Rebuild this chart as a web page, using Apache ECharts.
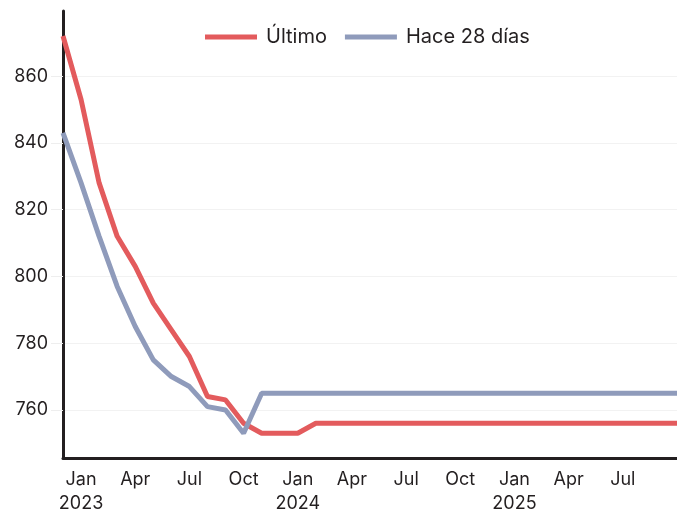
<!DOCTYPE html>
<html>
<head>
<meta charset="utf-8">
<script src="https://cdn.jsdelivr.net/npm/echarts@6/dist/echarts.min.js"></script>
<style>
  html, body { margin: 0; padding: 0; background: #fff; }
  #chart { width: 677px; height: 513px; }
</style>
</head>
<body>
<div id="chart"></div>
<script>
// meses, dic 2022 .. oct 2025
var months = [
    '2022-12',
    '2023-01', '2023-02', '2023-03', '2023-04', '2023-05', '2023-06',
    '2023-07', '2023-08', '2023-09', '2023-10', '2023-11', '2023-12',
    '2024-01', '2024-02', '2024-03', '2024-04', '2024-05', '2024-06',
    '2024-07', '2024-08', '2024-09', '2024-10', '2024-11', '2024-12',
    '2025-01', '2025-02', '2025-03', '2025-04', '2025-05', '2025-06',
    '2025-07', '2025-08', '2025-09', '2025-10'
];
var monthNames = ['Jan', 'Feb', 'Mar', 'Apr', 'May', 'Jun', 'Jul', 'Aug', 'Sep', 'Oct', 'Nov', 'Dec'];

var ultimo = [
    872,
    853, 828, 812, 803, 792, 784, 776, 764, 763, 756, 753, 753,
    753, 756, 756, 756, 756, 756, 756, 756, 756, 756, 756, 756,
    756, 756, 756, 756, 756, 756, 756, 756, 756, 756
];
var hace28 = [
    843,
    828, 812, 797, 785, 775, 770, 767, 761, 760, 753, 765, 765,
    765, 765, 765, 765, 765, 765, 765, 765, 765, 765, 765, 765,
    765, 765, 765, 765, 765, 765, 765, 765, 765, 765
];

var FONT = 'Inter';
var INK = '#231f20';

var chart = echarts.init(document.getElementById('chart'));

var option = {
    animation: false,
    textStyle: { fontFamily: FONT },
    legend: {
        top: 22,
        left: 200,
        itemWidth: 52,
        itemHeight: 5,
        itemGap: 18,
        icon: 'rect',
        textStyle: { fontSize: 20, color: INK, fontFamily: FONT, padding: [0, 0, 0, 4] },
        data: ['Último', 'Hace 28 días']
    },
    grid: { left: 63, right: 0, top: 11, bottom: 55, containLabel: false, outerBoundsMode: 'none' },
    xAxis: {
        type: 'category',
        boundaryGap: false,
        data: months,
        axisLine: { lineStyle: { color: INK, width: 3 } },
        axisTick: { show: false },
        axisLabel: {
            margin: 10,
            fontSize: 18,
            color: INK,
            lineHeight: 24,
            interval: function (i, v) {
                var m = parseInt(v.split('-')[1], 10);
                return m % 3 === 1 && i < months.length - 1;
            },
            formatter: function (v) {
                var p = v.split('-');
                var m = parseInt(p[1], 10);
                var s = monthNames[m - 1];
                if (m === 1) s += '\n' + p[0];
                return s;
            }
        },
        splitLine: { show: false }
    },
    yAxis: {
        type: 'value',
        min: 745.6,
        max: 879.5,
        splitNumber: 7,
        axisLine: { show: true, lineStyle: { color: INK, width: 3 } },
        axisTick: { show: true, length: 12, lineStyle: { color: '#eeeeee' } },
        axisLabel: {
            fontSize: 18,
            color: INK,
            margin: 15,
            showMinLabel: false,
            showMaxLabel: false
        },
        splitLine: { show: true, showMinLine: false, showMaxLine: false, lineStyle: { color: '#f2f2f2' } }
    },
    series: [
        {
            name: 'Último',
            type: 'line',
            data: ultimo,
            showSymbol: false,
            symbol: 'none',
            lineStyle: { color: '#e35b5d', width: 5 },
            itemStyle: { color: '#e35b5d' }
        },
        {
            name: 'Hace 28 días',
            type: 'line',
            data: hace28,
            showSymbol: false,
            symbol: 'none',
            lineStyle: { color: '#8f9bbb', width: 5 },
            itemStyle: { color: '#8f9bbb' }
        }
    ]
};

chart.setOption(option);
</script>
</body>
</html>
